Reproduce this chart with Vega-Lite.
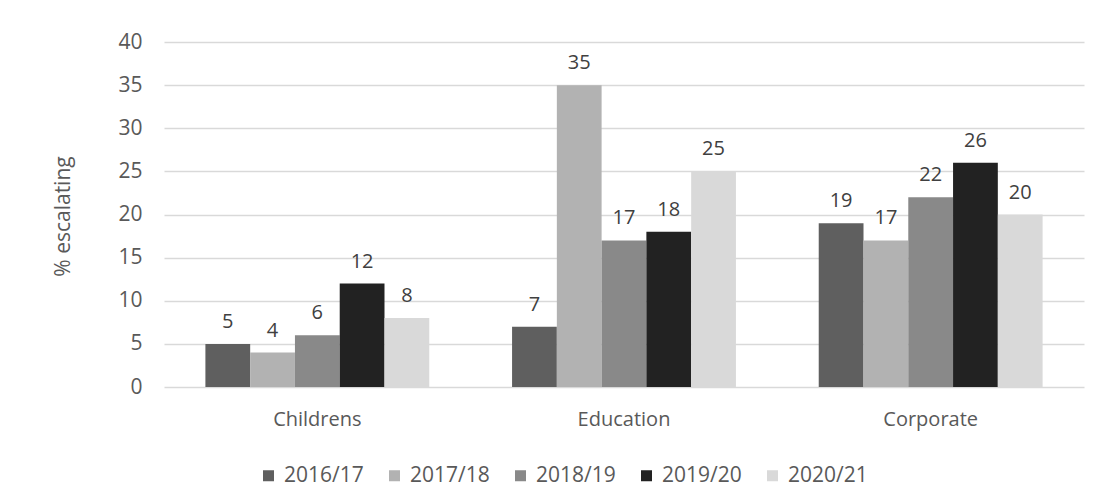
{
  "$schema": "https://vega.github.io/schema/vega-lite/v6.json",
  "autosize": "none",
  "width": 920,
  "height": 345,
  "padding": {"left": 164, "top": 42, "right": 10, "bottom": 115},
  "background": "white",
  "config": {"view": {"stroke": null}},
  "data": {
    "values": [
      {"category": "Childrens", "year": "2016/17", "value": 5},
      {"category": "Childrens", "year": "2017/18", "value": 4},
      {"category": "Childrens", "year": "2018/19", "value": 6},
      {"category": "Childrens", "year": "2019/20", "value": 12},
      {"category": "Childrens", "year": "2020/21", "value": 8},
      {"category": "Education", "year": "2016/17", "value": 7},
      {"category": "Education", "year": "2017/18", "value": 35},
      {"category": "Education", "year": "2018/19", "value": 17},
      {"category": "Education", "year": "2019/20", "value": 18},
      {"category": "Education", "year": "2020/21", "value": 25},
      {"category": "Corporate", "year": "2016/17", "value": 19},
      {"category": "Corporate", "year": "2017/18", "value": 17},
      {"category": "Corporate", "year": "2018/19", "value": 22},
      {"category": "Corporate", "year": "2019/20", "value": 26},
      {"category": "Corporate", "year": "2020/21", "value": 20}
    ]
  },
  "encoding": {
    "x": {
      "field": "category", "type": "nominal",
      "sort": ["Childrens", "Education", "Corporate"],
      "scale": {"paddingInner": 0.27, "paddingOuter": 0.135},
      "axis": {
        "title": null, "labelAngle": 0, "ticks": false, "domain": false,
        "labelPadding": 22, "labelFont": "Open Sans", "labelFontSize": 20,
        "labelColor": "#595959", "grid": false
      }
    },
    "xOffset": {"field": "year", "type": "nominal", "sort": ["2016/17", "2017/18", "2018/19", "2019/20", "2020/21"]},
    "y": {
      "field": "value", "type": "quantitative",
      "scale": {"domain": [0, 40]},
      "axis": {
        "title": "% escalating", "values": [0, 5, 10, 15, 20, 25, 30, 35, 40],
        "ticks": false, "domain": false, "labelPadding": 22,
        "labelFont": "Open Sans", "labelFontSize": 21, "labelColor": "#595959",
        "gridColor": "#d9d9d9", "gridWidth": 1.3,
        "titleFont": "Open Sans", "titleFontSize": 21, "titleFontWeight": "normal",
        "titleColor": "#595959", "titleX": -101, "titleY": 174, "titleAngle": 270,
        "titleAlign": "center", "titleBaseline": "middle"
      }
    }
  },
  "layer": [
    {
      "mark": {"type": "bar"},
      "encoding": {
        "color": {
          "field": "year", "type": "nominal",
          "scale": {
            "domain": ["2016/17", "2017/18", "2018/19", "2019/20", "2020/21"],
            "range": ["#5f5f5f", "#b2b2b2", "#898989", "#222222", "#d9d9d9"]
          },
          "legend": {
            "title": null, "orient": "none", "direction": "horizontal", "columns": 5,
            "legendX": 94, "legendY": 423,
            "symbolType": "square", "symbolSize": 121, "symbolStrokeWidth": 0,
            "labelFont": "Open Sans", "labelFontSize": 21, "labelColor": "#595959",
            "labelOffset": 5, "columnPadding": 20
          }
        }
      }
    },
    {
      "mark": {"type": "text", "baseline": "alphabetic", "dy": -16, "font": "Open Sans", "fontSize": 20, "color": "#404040"},
      "encoding": {
        "text": {"field": "value", "type": "quantitative"}
      }
    }
  ]
}
